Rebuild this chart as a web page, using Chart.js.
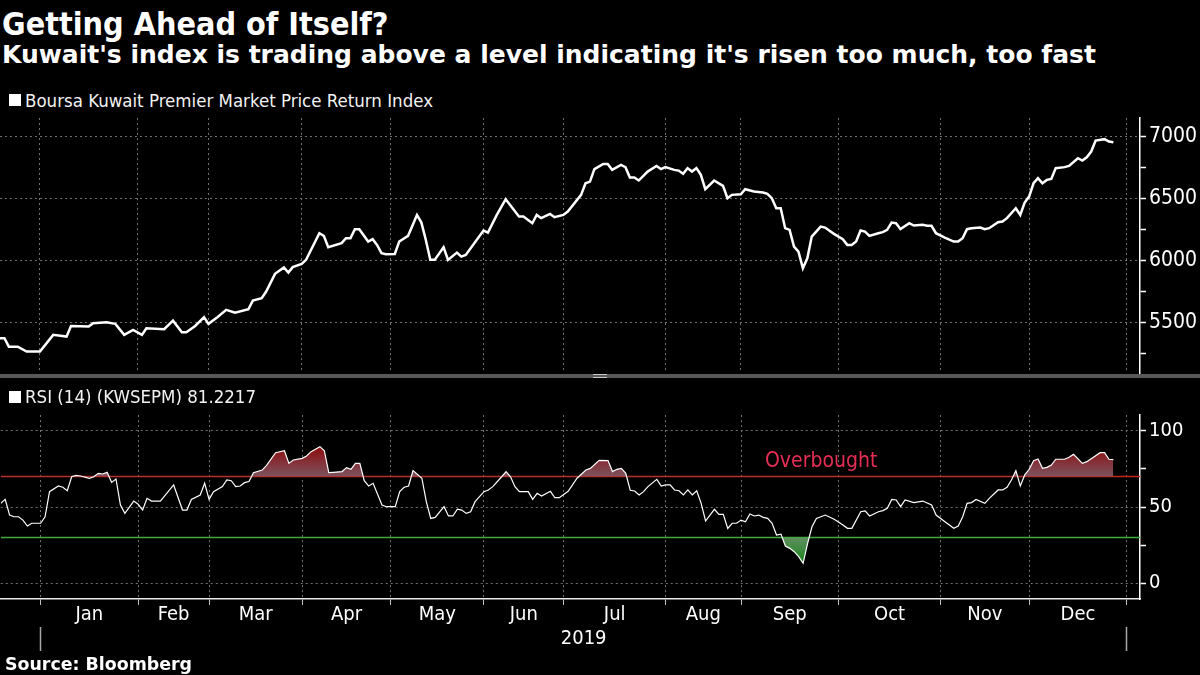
<!DOCTYPE html>
<html>
<head>
<meta charset="utf-8">
<title>Getting Ahead of Itself?</title>
<script src="https://cdn.jsdelivr.net/npm/chart.js@4.4.0/dist/chart.umd.min.js"></script>
<style>
  body {
    margin: 0;
    width: 1200px;
    height: 675px;
    background: #000;
    color: #fff;
    overflow: hidden;
    position: relative;
    font-family: 'DejaVu Sans Condensed', 'DejaVu Sans', sans-serif;
  }
  .abs { position: absolute; white-space: nowrap; }
  #title { left: 2px; top: 5px; font-size: 32px; font-weight: bold; }
  #subtitle { left: 2px; top: 40px; font-family: 'DejaVu Sans', sans-serif; font-size: 25px; font-weight: bold; }
  .legend { left: 25px; font-size: 18.5px; color: #f2f2f2; }
  .swatch { left: 9px; width: 12px; height: 12px; background: #fff; }
  #divider { left: 0; top: 374px; width: 1200px; height: 4px; background: #595959; }
  #handle { left: 593px; top: 374px; width: 14px; height: 2px; border-top: 1px solid #c8c8c8; border-bottom: 1px solid #c8c8c8; }
  #overbought { left: 765px; top: 448px; font-size: 21px; color: #e62e55; }
  #source { left: 5px; top: 654px; font-family: 'DejaVu Sans', sans-serif; font-size: 17.4px; font-weight: bold; }
  canvas { position: absolute; left: 0; }
  #priceChart { top: 110px; }
  #rsiChart { top: 380px; }
</style>
</head>
<body>
<div id="title" class="abs">Getting Ahead of Itself?</div>
<div id="subtitle" class="abs">Kuwait's index is trading above a level indicating it's risen too much, too fast</div>

<div class="abs swatch" style="top:94px"></div>
<div class="abs legend" style="top:90px">Boursa Kuwait Premier Market Price Return Index</div>

<canvas id="priceChart" width="1200" height="265"></canvas>

<div id="divider" class="abs"></div>
<div id="handle" class="abs"></div>

<div class="abs swatch" style="top:391px"></div>
<div class="abs legend" style="top:386px">RSI (14) (KWSEPM) 81.2217</div>

<canvas id="rsiChart" width="1200" height="295"></canvas>
<div id="overbought" class="abs">Overbought</div>

<div id="source" class="abs">Source: Bloomberg</div>

<script>
// x axis is the trading-day index, starting in late Dec 2018
const monthLabels = ['Jan', 'Feb', 'Mar', 'Apr', 'May', 'Jun', 'Jul', 'Aug', 'Sep', 'Oct', 'Nov', 'Dec'];
const monthStarts = [9, 31, 47, 68, 88, 109, 127, 150, 167, 189, 212, 232, 254]; // last one = Jan 2020
const yearLabel = '2019';
const dayMin = 0;
const dayMax = 257;

const priceTicks = [5250, 5500, 5750, 6000, 6250, 6500, 6750, 7000];
const rsiTicks = [0, 25, 50, 75, 100];
const overbought = 70;
const oversold = 30;

const priceDays = [
  0, 1, 2, 4, 6, 9, 12, 15, 16, 20, 21, 24, 26, 28, 30, 32, 33, 37, 39, 41, 42, 44, 46, 47, 49,
  51, 53, 56, 57, 59, 60, 62, 64, 65, 66, 68, 69, 72, 73, 74, 77, 78, 79, 80, 81, 83, 84, 85, 86, 87,
  89, 90, 92, 94, 95, 96, 97, 98, 100, 101, 103, 104, 105, 109, 110, 112, 114, 115, 117, 118, 120,
  121, 122, 124, 125, 127, 128, 131, 132, 133, 134, 136, 137, 138, 140, 141, 142, 143, 144, 146,
  148, 149, 150, 152, 153, 154, 155, 156, 157, 158, 159, 161, 163, 164, 165, 167, 168, 170, 172,
  173, 174, 175, 176, 177, 178, 179, 180, 181, 182, 183, 185, 186, 188, 190, 191, 192, 193, 194,
  195, 196, 198, 199, 200, 201, 202, 203, 205, 206, 208, 209, 210, 211, 213, 215, 216, 217, 218,
  219, 221, 222, 223, 225, 226, 227, 229, 230, 231, 232, 233, 234, 235, 236, 237, 238, 240, 241,
  243, 244, 245, 246, 247, 249, 250, 251
];
const priceValues = [
  5371, 5371, 5303, 5303, 5263, 5263, 5398, 5384, 5470, 5465, 5492, 5500, 5487, 5398, 5438, 5398, 5452, 5444, 5513, 5420, 5420, 5470, 5541, 5487, 5541,
  5600, 5578, 5605, 5675, 5694, 5748, 5891, 5942, 5901, 5945, 5971, 6004, 6219, 6198, 6106, 6139, 6179, 6179, 6252, 6252, 6152, 6171, 6125, 6058, 6050,
  6052, 6152, 6198, 6367, 6305, 6165, 6004, 6004, 6106, 6004, 6063, 6030, 6044, 6241, 6224, 6367, 6494, 6448, 6354, 6354, 6300,
  6367, 6341, 6375, 6349, 6367, 6394, 6529, 6623, 6636, 6737, 6779, 6779, 6731, 6771, 6753, 6669, 6669, 6645, 6717,
  6763, 6737, 6753, 6731, 6725, 6699, 6745, 6717, 6745, 6691, 6575, 6645, 6602, 6502, 6529, 6534, 6575, 6556, 6548,
  6537, 6502, 6421, 6421, 6260, 6246, 6111, 6071, 5937, 6017, 6192, 6273, 6265, 6214, 6171, 6125, 6125, 6152, 6241,
  6232, 6198, 6219, 6228, 6246, 6305, 6300, 6252, 6300, 6281, 6287, 6279, 6279, 6219, 6184, 6152, 6152, 6179, 6252,
  6260, 6265, 6252, 6260, 6308, 6313, 6341, 6421, 6367, 6467, 6515, 6623, 6664, 6623, 6650, 6658, 6745, 6753, 6763,
  6825, 6806, 6833, 6879, 6968, 6979, 6960, 6955
];

const rsiDays = [
  0, 1, 2, 3, 4, 5, 6, 7, 9, 10, 11, 13, 14, 15, 16, 17, 18, 20, 21, 22, 23, 24, 25, 26, 27, 28, 30,
  31, 32, 33, 34, 36, 39, 41, 42, 43, 45, 46, 47, 48, 50, 51, 52, 53, 54, 55, 56, 57, 59, 60, 62, 64,
  65, 66, 68, 69, 70, 72, 73, 74, 75, 77, 78, 79, 80, 81, 82, 83, 84, 86, 87, 89, 90, 91, 92, 93, 95,
  96, 97, 98, 100, 101, 102, 103, 104, 105, 106, 107, 109, 110, 111, 113, 114, 115, 116, 117, 119,
  120, 121, 122, 124, 125, 126, 128, 130, 132, 133, 135, 137, 138, 139, 140, 141, 142, 143, 144, 145,
  146, 148, 149, 150, 151, 152, 153, 154, 155, 156, 157, 158, 159, 160, 161, 162, 163, 164, 165, 166,
  167, 168, 169, 170, 171, 172, 173, 174, 175, 176, 177, 178, 179, 180, 181, 182, 183, 184, 186, 188,
  190, 191, 192, 194, 195, 196, 198, 199, 200, 201, 202, 203, 204, 206, 208, 210, 211, 213, 215, 216,
  217, 218, 219, 220, 222, 223, 225, 226, 227, 228, 229, 230, 231, 232, 233, 234, 235, 236, 237, 238,
  240, 241, 242, 244, 245, 248, 249, 250, 251
];
const rsiValues = [
  52.4, 55.0, 44.7, 43.6, 43.6, 41.4, 37.5, 39.3, 39.3, 43.6, 60.1, 63.8, 63.0, 60.7, 69.9, 70.8, 70.4, 68.9, 69.9, 72.1, 71.7, 72.8, 66.2, 68.4, 51.3, 45.8, 53.9,
  51.8, 48.0, 55.7, 53.9, 53.9, 64.5, 48.0, 48.0, 55.0, 57.9, 65.6, 55.0, 60.1, 63.4, 67.8, 67.3, 63.4, 63.8, 66.0, 66.7, 72.6, 74.3, 77.6, 85.7, 87.0,
  78.7, 80.9, 82.0, 83.6, 86.4, 89.7, 87.0, 72.6, 72.8, 73.3, 75.9, 74.8, 78.7, 78.7, 67.3, 63.8, 65.6, 51.3, 50.2, 50.2, 60.1, 63.0, 63.8, 73.9, 68.9,
  53.5, 42.5, 43.2, 50.2, 44.1, 44.1, 48.5, 48.0, 45.8, 46.9, 53.5, 60.1, 61.2, 63.4, 69.9, 73.3, 69.9, 63.4, 60.1, 60.1,
  55.0, 59.0, 57.2, 60.3, 56.1, 56.1, 60.3, 68.9, 74.3, 75.4, 80.7, 80.5, 73.3, 74.8, 75.4, 72.1, 61.0, 60.5, 57.9, 60.1,
  63.4, 68.2, 63.8, 64.5, 64.5, 61.2, 60.7, 57.9, 61.2, 57.9, 60.7, 52.4, 40.8, 44.7, 48.5, 45.2, 45.2, 35.9, 39.3, 39.3,
  41.4, 40.3, 45.4, 44.1, 44.7, 43.2, 42.5, 39.3, 31.6, 32.2, 24.3, 22.8, 20.6, 17.3, 13.0, 25.9, 37.0, 42.5, 44.7, 41.9,
  38.2, 36.0, 36.0, 46.9, 47.4, 44.1, 46.9, 47.6, 49.1, 55.0, 54.6, 50.2, 54.6, 52.9, 53.9, 51.3, 44.7, 40.3, 36.0, 37.5,
  43.6, 52.4, 52.9, 55.0, 52.4, 55.7, 61.2, 61.2, 62.9, 67.8, 73.9, 63.8, 71.1, 74.8, 80.5, 81.6, 75.4, 76.1, 77.6, 81.4,
  81.4, 82.7, 84.6, 78.7, 79.8, 85.7, 85.7, 81.4, 81.2
];

Chart.defaults.font.family = "'DejaVu Sans Condensed', 'DejaVu Sans', sans-serif";
Chart.defaults.color = '#fff';

const gridGrey = '#707070';
const gridDash = [2, 3];

function lockWidth(w) {
  return (s) => { s.width = w; s.paddingTop = 0; s.paddingBottom = 0; };
}
function lockHeight(h) {
  return (s) => { s.height = h; s.paddingLeft = 0; s.paddingRight = 0; };
}
function toPoints(days, values) {
  return days.map((d, i) => ({ x: d, y: values[i] }));
}

// vertical dashed month lines, shared by both panels
function monthGridAxis(withLine) {
  return {
    type: 'linear',
    position: 'bottom',
    min: dayMin,
    max: dayMax,
    afterBuildTicks: (s) => { s.ticks = monthStarts.map((v) => ({ value: v })); },
    ticks: { display: false },
    grid: { color: gridGrey, drawTicks: withLine, tickLength: 6, tickColor: '#bdbdbd' },
    border: { display: withLine, color: '#e8e8e8', width: 1.5, dash: gridDash },
    afterFit: lockHeight(withLine ? 6 : 0)
  };
}

function valueAxis(min, max, tickValues, labelStep, fontSize) {
  return {
    type: 'linear',
    position: 'right',
    min: min,
    max: max,
    afterBuildTicks: (s) => { s.ticks = tickValues.map((v) => ({ value: v })); },
    ticks: {
      color: '#fff',
      padding: 3,
      font: { size: fontSize },
      callback: (v) => (v % labelStep === 0 ? String(v) : '')
    },
    grid: {
      color: (c) => (c.tick && c.tick.value % labelStep === 0 ? gridGrey : 'transparent'),
      tickLength: 6,
      tickColor: '#fff',
      tickWidth: 1.5
    },
    border: { color: '#fff', width: 1.5, dash: gridDash },
    afterFit: lockWidth(60)
  };
}

const baseOptions = {
  responsive: false,
  animation: false,
  events: [],
  plugins: { legend: { display: false }, tooltip: { enabled: false } },
  elements: { point: { radius: 0 }, line: { tension: 0 } }
};

const priceChart = new Chart(document.getElementById('priceChart'), {
  type: 'line',
  data: {
    datasets: [{
      label: 'Boursa Kuwait Premier Market Price Return Index',
      data: toPoints(priceDays, priceValues),
      borderColor: '#fff',
      borderWidth: 2.5,
      fill: false
    }]
  },
  options: {
    ...baseOptions,
    layout: { padding: { top: 8, bottom: 2, left: 0, right: 0 } },
    scales: {
      x: monthGridAxis(false),
      y: valueAxis(5090, 7150, priceTicks, 500, 21)
    }
  }
});

const yearTicks = [monthStarts[0], (monthStarts[0] + monthStarts[12]) / 2, monthStarts[12]];

const rsiChart = new Chart(document.getElementById('rsiChart'), {
  type: 'line',
  data: {
    datasets: [
      {
        label: 'RSI (14)',
        data: toPoints(rsiDays, rsiValues),
        borderColor: '#fff',
        borderWidth: 1.2,
        fill: false,
        order: 0
      },
      {
        label: 'RSI oversold shade',
        data: toPoints(rsiDays, rsiValues),
        borderWidth: 0,
        borderColor: 'transparent',
        fill: false,
        order: 1
      },
      {
        label: 'Overbought',
        data: [{ x: dayMin, y: overbought }, { x: dayMax, y: overbought }],
        borderColor: '#c4261c',
        borderWidth: 1.5,
        order: 2
      },
      {
        label: 'Oversold',
        data: [{ x: dayMin, y: oversold }, { x: dayMax, y: oversold }],
        borderColor: '#3fae3a',
        borderWidth: 1.5,
        order: 3
      }
    ]
  },
  options: {
    ...baseOptions,
    layout: { padding: { top: 35, bottom: 0, left: 0, right: 0 } },
    scales: {
      x: monthGridAxis(true),
      xm: {
        type: 'linear',
        axis: 'x',
        position: 'bottom',
        weight: 1,
        min: dayMin,
        max: dayMax,
        afterBuildTicks: (s) => {
          s.ticks = monthLabels.map((m, i) => ({ value: (monthStarts[i] + monthStarts[i + 1]) / 2 }));
        },
        ticks: {
          autoSkip: false, maxRotation: 0, minRotation: 0, padding: 0,
          color: '#fff', font: { size: 20, lineHeight: 1 },
          callback: (v, i) => monthLabels[i]
        },
        grid: { display: false, drawTicks: false },
        border: { display: false },
        afterFit: lockHeight(22)
      },
      xy: {
        type: 'linear',
        axis: 'x',
        position: 'bottom',
        weight: 2,
        min: dayMin,
        max: dayMax,
        afterBuildTicks: (s) => { s.ticks = yearTicks.map((v) => ({ value: v })); },
        ticks: {
          autoSkip: false, maxRotation: 0, minRotation: 0, padding: -22,
          color: '#fff', font: { size: 20, lineHeight: 1 },
          callback: (v, i) => (i === 1 ? yearLabel : '')
        },
        grid: {
          drawOnChartArea: false,
          drawTicks: true,
          tickLength: 24,
          tickWidth: 1.5,
          tickColor: (c) => (c.index === 1 ? 'transparent' : '#a8a8a8')
        },
        border: { display: false },
        afterFit: lockHeight(48)
      },
      y: valueAxis(-10.5, 110.5, rsiTicks, 50, 20)
    }
  }
});

// gradient shading once the scales are laid out
function shade(chart, fromValue, toValue, outer, inner) {
  const y = chart.scales.y;
  const g = chart.ctx.createLinearGradient(0, y.getPixelForValue(fromValue), 0, y.getPixelForValue(toValue));
  g.addColorStop(0, outer);
  g.addColorStop(1, inner);
  return g;
}
rsiChart.data.datasets[0].fill = {
  target: { value: overbought },
  above: shade(rsiChart, 90, overbought, 'rgb(142,10,12)', 'rgb(124,84,96)'),
  below: 'transparent'
};
rsiChart.data.datasets[1].fill = {
  target: { value: oversold },
  above: 'transparent',
  below: shade(rsiChart, 12, oversold, 'rgb(18,132,22)', 'rgb(96,144,96)')
};
rsiChart.update();
</script>
</body>
</html>
